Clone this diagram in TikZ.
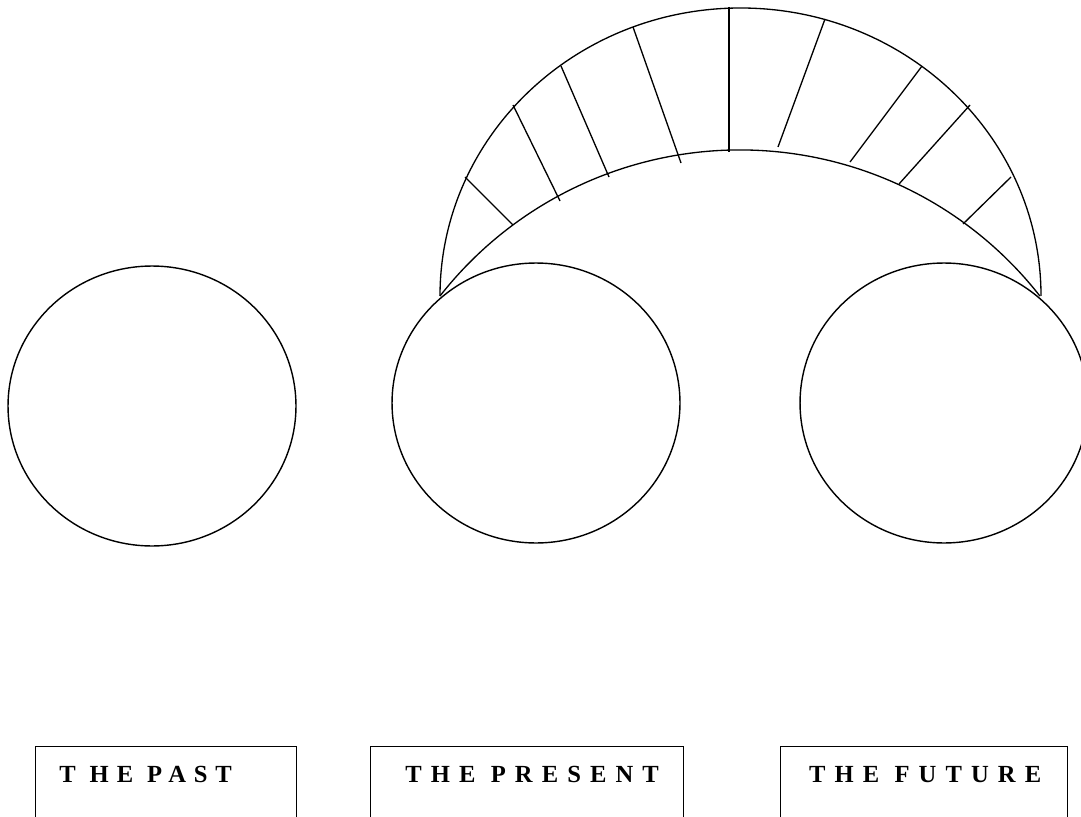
\documentclass[tikz,border=0pt]{standalone}
\usepackage{fontspec}
\usepackage{tikz}
\usetikzlibrary{positioning,shapes.geometric}
\newfontfamily\tenseFont[LetterSpace=37]{Liberation Serif}
\newfontfamily\pastFont[LetterSpace=32]{Liberation Serif}
\tikzset{
  ring/.style={draw,ellipse,line width=0.8pt,minimum width=5.76cm,minimum height=5.6cm,inner sep=0pt},
  tensebox/.style={draw,line width=0.8pt,anchor=north west,minimum height=2.2cm,inner sep=0pt},
  tense/.style={font=\tenseFont\bfseries\fontsize{14}{16}\selectfont,inner sep=0pt},
  spoke/.style={line width=0.75pt}
}
\begin{document}
\begin{tikzpicture}[x=0.02cm,y=0.02cm]
  \path[use as bounding box] (0,0) rectangle (1081,816);
  \clip (0,0) rectangle (1081,816);
  % Three times
  \node[ring] (past) at (152,410) {};
  \node[ring] (present) at (536,413) {};
  \node[ring] (future) at (944,413) {};
  % Bridge over present and future
  \coordinate (bridgeL) at (440,520);
  \draw[spoke] (bridgeL) arc[start angle=180,end angle=0,x radius=300.5,y radius=288];
  \draw[spoke] (bridgeL) arc[start angle=141.93,end angle=38.07,radius=381];
  \foreach \xa/\ya/\xb/\yb in {465/639/513/591, 513/711/560/615, 561/750/609/639,
      633/789/681/653, 729/809/729/664, 825/797/778/669, 922/750/850/654,
      970/711/899/632, 1011/639/963/592}
    \draw[spoke] (\xa,\ya) -- (\xb,\yb);
  % Labels
  \node[tensebox,minimum width=5.22cm] (pastbox) at (35,70) {};
  \node[tensebox,minimum width=6.26cm] (presentbox) at (370,70) {};
  \node[tensebox,minimum width=5.74cm] (futurebox) at (780,70) {};
  \node[tense,font=\pastFont\bfseries\fontsize{14}{16}\selectfont,anchor=base west]
    (pastlabel) at ([xshift=0.48cm,yshift=-0.72cm]pastbox.north west) {T HE PAST};
  \node[tense,anchor=base] (presentlabel) at ([xshift=0.1cm,yshift=-0.72cm]presentbox.north) {THE PRESENT};
  \node[tense,anchor=base] (futurelabel) at ([xshift=0.02cm,yshift=-0.72cm]futurebox.north) {THE FUTURE};
\end{tikzpicture}
\end{document}
